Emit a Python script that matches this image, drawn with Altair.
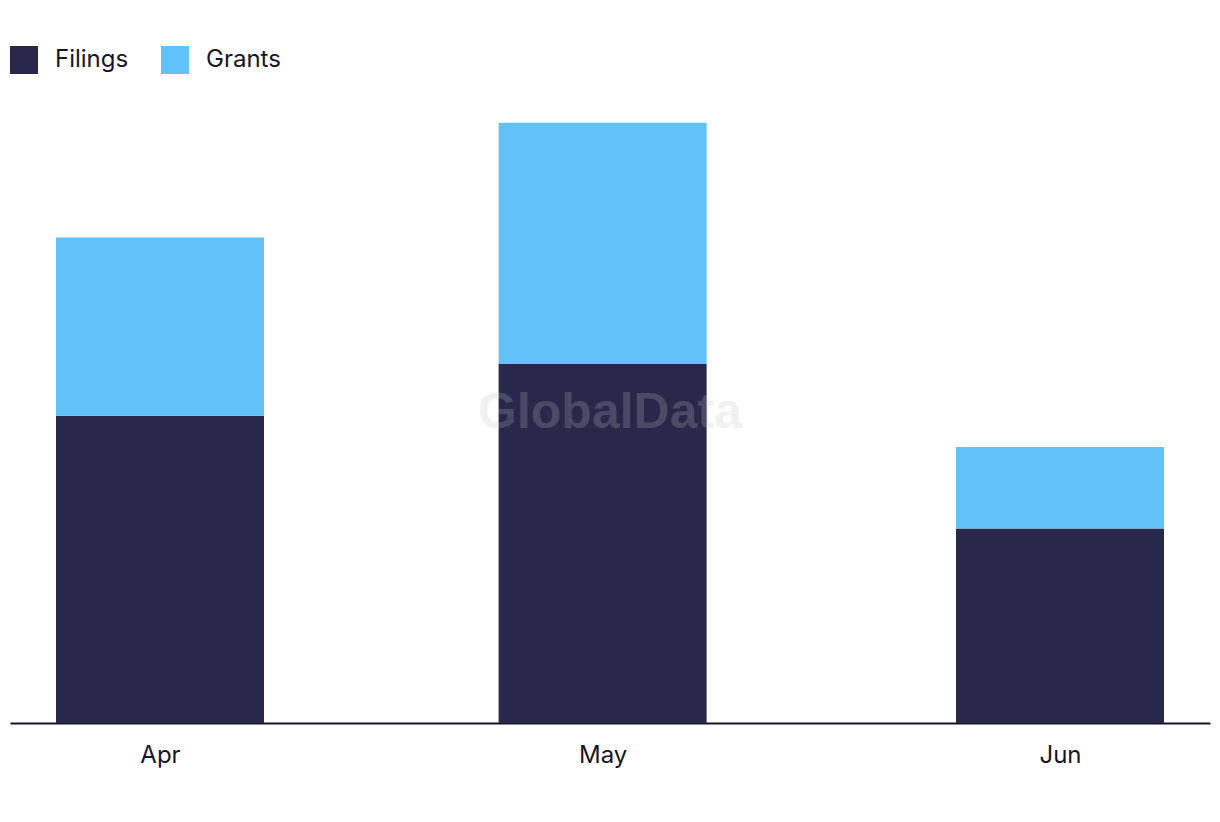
import altair as alt
import pandas as pd

months = ["2024-04-01", "2024-05-01", "2024-06-01"]
filings = [51.2, 59.8, 32.4]
grants = [29.7, 40.2, 13.6]
series = ["Filings", "Grants"]
colors = ["#27284A", "#62C1F9"]

rows = []
for m, f, g in zip(months, filings, grants):
    rows.append({"date": m, "series": "Filings", "value": f, "ord": 0})
    rows.append({"date": m, "series": "Grants", "value": g, "ord": 1})
df = pd.DataFrame(rows)

FONT = "Inter"

x_scale = alt.Scale(
    type="utc", nice=False, padding=0,
    domain=[alt.DateTime(year=2024, month=3, date=21, hours=20, utc=True),
            alt.DateTime(year=2024, month=6, date=11, hours=4, utc=True)],
)

bars = alt.Chart(df).mark_bar(size=208).encode(
    x=alt.X("date:T", scale=x_scale, title=None,
            axis=alt.Axis(format="%b",
                          values=[alt.DateTime(year=2024, month=4, date=1, utc=True),
                                  alt.DateTime(year=2024, month=5, date=1, utc=True),
                                  alt.DateTime(year=2024, month=6, date=1, utc=True)],
                          ticks=False, grid=False, domainColor="#16162a", domainWidth=2,
                          labelFont=FONT, labelFontSize=24, labelColor="#16162a",
                          labelPadding=20)),
    y=alt.Y("value:Q", stack="zero", scale=alt.Scale(domain=[0, 103.8], padding=0), axis=None),
    color=alt.Color("series:N", scale=alt.Scale(domain=series, range=colors),
                    legend=alt.Legend(orient="none", legendX=0, legendY=-54, direction="horizontal",
                                      title=None, symbolType="square", symbolSize=784,
                                      symbolStrokeWidth=0, symbolOpacity=1,
                                      labelFont=FONT, labelFontSize=24, labelColor="#16162a",
                                      labelOffset=17, columnPadding=32)),
    order=alt.Order("ord:Q"),
)

wm = alt.Chart(pd.DataFrame({"t": ["GlobalData"]})).mark_text(
    font="Liberation Sans", fontWeight="bold", fontSize=50, color="#c4c4c4", opacity=0.22,
    align="center", baseline="middle"
).encode(text="t:N", x=alt.value(600), y=alt.value(313))

chart = alt.layer(bars, wm).properties(
    width=1200, height=623,
    padding={"left": 2, "top": 92, "right": 2, "bottom": 80},
    autosize=alt.AutoSizeParams(type="none"),
).configure_view(stroke=None)

chart.save("out.html", embed_options={"renderer": "svg", "actions": False})
